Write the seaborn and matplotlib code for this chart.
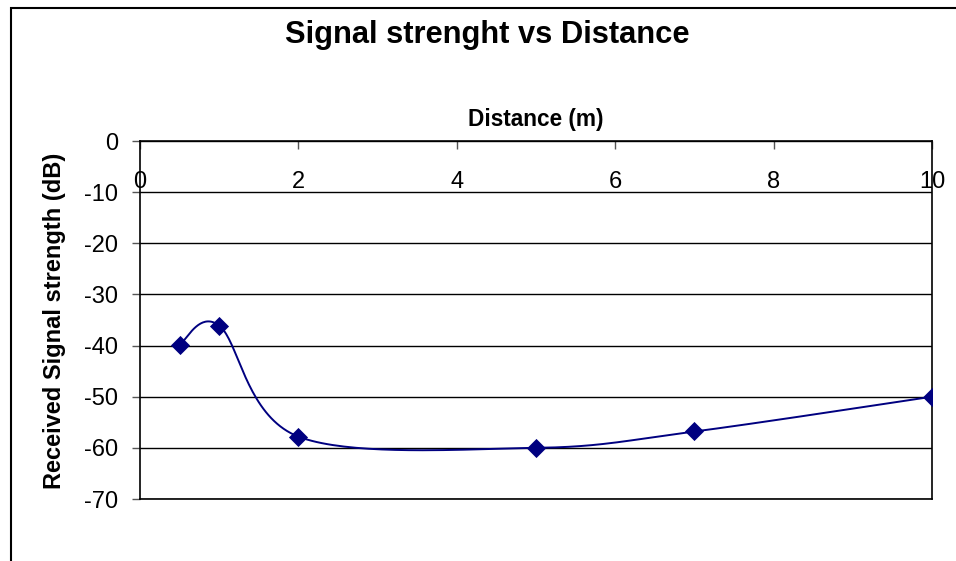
import numpy as np
import pandas as pd
import matplotlib
matplotlib.use("Agg")
import matplotlib.pyplot as plt
from matplotlib.patches import Rectangle
import seaborn as sns

# ---- data ----
distance_m = [0.5, 1, 2, 5, 7, 10]
signal_db = [-39.8, -36.1, -57.8, -60.0, -56.8, -50.0]
x_ticks = [0, 2, 4, 6, 8, 10]
y_ticks = [0, -10, -20, -30, -40, -50, -60, -70]

title_text = "Signal strenght vs Distance"
x_label = "Distance (m)"
y_label = "Received Signal strength (dB)"

# ---- Excel-like smoothed line (cubic Bezier, Catmull-Rom tangents) ----
def smooth(xs, ys, n=40):
    P = np.column_stack([xs, ys]).astype(float)
    Pext = np.vstack([P[0], P, P[-1]])
    out = []
    for i in range(len(P) - 1):
        p0, p1, p2, p3 = Pext[i], Pext[i + 1], Pext[i + 2], Pext[i + 3]
        c1 = p1 + (p2 - p0) / 6.0
        c2 = p2 - (p3 - p1) / 6.0
        t = np.linspace(0, 1, n)[:, None]
        seg = ((1 - t) ** 3) * p1 + 3 * ((1 - t) ** 2) * t * c1 + 3 * (1 - t) * t ** 2 * c2 + t ** 3 * p2
        out.append(seg if i == 0 else seg[1:])
    out = np.vstack(out)
    return out[:, 0], out[:, 1]

sx, sy = smooth(distance_m, signal_db)
curve = pd.DataFrame({"x": sx, "y": sy})
pts = pd.DataFrame({"x": distance_m, "y": signal_db})

sns.set_theme(style="white")
plt.rcParams["font.family"] = ["Liberation Sans", "DejaVu Sans"]
plt.rcParams["text.color"] = "black"
plt.rcParams["axes.labelcolor"] = "black"
plt.rcParams["xtick.color"] = "black"
plt.rcParams["ytick.color"] = "black"

fig = plt.figure(figsize=(9.56, 5.61), dpi=100)
ax = fig.add_axes([140 / 956, 1 - 499 / 561, (932 - 140) / 956, (499 - 141) / 561])

sns.lineplot(data=curve, x="x", y="y", sort=False, estimator=None, ax=ax,
             color="#000080", linewidth=1.4)
sns.scatterplot(data=pts, x="x", y="y", ax=ax, marker="D", s=95,
                color="#000080", edgecolor="#000080", linewidth=0, zorder=5)

ax.set_xlim(0, 10)
ax.set_ylim(-70, 0)
ax.set_xticks(x_ticks)
ax.set_yticks(y_ticks)
ax.set_xticklabels([str(v) for v in x_ticks])
ax.set_yticklabels([str(v) for v in y_ticks])
ax.grid(axis="y", color="black", linewidth=1.0)
ax.set_axisbelow(True)

for s in ax.spines.values():
    s.set_visible(True)
    s.set_color("black")
    s.set_linewidth(1.2)

ax.xaxis.tick_top()
ax.xaxis.set_label_position("top")
ax.tick_params(axis="x", which="both", top=True, bottom=False, direction="in",
               length=5.5, width=1, color="#555555", labelsize=17, pad=-37.5,
               labeltop=True, labelbottom=False, labelcolor="black")
ax.tick_params(axis="y", left=True, direction="out", length=5.8, width=1,
               color="#555555", labelsize=17, pad=10, labelcolor="black")

ax.set_xlabel(x_label, fontsize=16.3, fontweight="bold", labelpad=11)
ax.set_ylabel(y_label, fontsize=17, fontweight="bold")
ax.yaxis.set_label_coords(66 / 956, 1 - 321 / 561, transform=fig.transFigure)

fig.text(487 / 956, 1 - 35 / 561, title_text, ha="center", va="center",
         fontsize=22.2, fontweight="bold")

# outer chart border
fig.patches.append(Rectangle((11 / 956, -0.1), 1.2, 1 - 8 / 561 + 0.1,
                             transform=fig.transFigure, fill=False,
                             edgecolor="black", linewidth=1.5))

fig.savefig("out.png", dpi=100)
